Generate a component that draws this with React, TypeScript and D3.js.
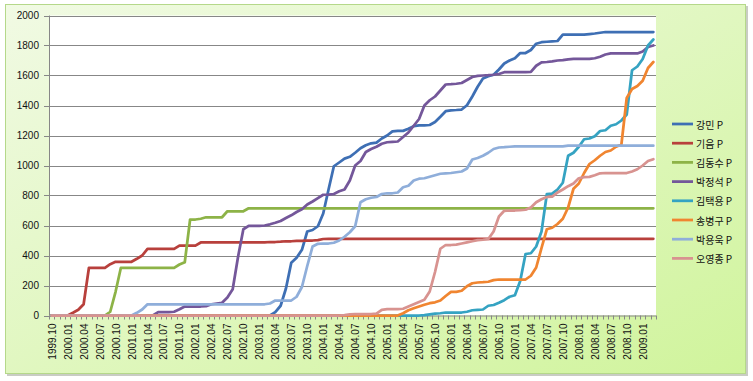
import React from "react";
import * as d3 from "d3";

const W = 753;
const H = 381;

// Categories: monthly from 1999.10 to 2009.03
const months: string[] = d3
  .timeMonth.range(new Date(1999, 9, 1), new Date(2009, 3, 1))
  .map((d) => d3.timeFormat("%Y.%m")(d));

const yTicks = [0, 200, 400, 600, 800, 1000, 1200, 1400, 1600, 1800, 2000];

const seriesNames = ["강민 P", "기음 P", "김동수 P", "박정석 P", "김택용 P", "송병구 P", "박용욱 P", "오영종 P"];
const seriesColors = ["#3E6FB4", "#B8403C", "#8DB347", "#74579A", "#35A3C2", "#F08530", "#8FAEDA", "#D89390"];

const kangmin = [
  0,0,0,0,0,0,0,0,0,0,
  0,0,0,0,0,0,0,0,0,0,
  0,0,0,0,0,0,0,0,0,0,
  0,0,0,0,0,0,0,0,0,0,
  0,0,22,65,180,352,385,438,560,570,
  595,680,840,995,1020,1046,1058,1085,1115,1135,
  1148,1153,1180,1200,1228,1231,1231,1245,1262,1268,
  1268,1270,1290,1325,1362,1368,1370,1373,1402,1460,
  1525,1580,1595,1605,1640,1680,1700,1715,1750,1750,
  1770,1812,1822,1825,1828,1830,1872,1872,1872,1872,
  1872,1876,1880,1885,1890,1890,1890,1890,1890,1890,
  1890,1890,1890,1890,
];
const gieum = [
  0,0,0,0,18,38,75,318,318,318,
  318,342,358,358,358,358,378,400,444,444,
  444,444,444,444,466,466,466,466,487,487,
  487,487,487,487,487,487,487,487,487,487,
  487,490,490,492,495,495,497,498,500,500,
  502,510,511,511,511,511,511,511,511,511,
  511,511,511,511,511,511,511,511,511,511,
  511,511,511,511,511,511,511,511,511,511,
  511,511,511,511,511,511,511,511,511,511,
  511,511,511,511,511,511,511,511,511,511,
  511,511,511,511,511,511,511,511,511,511,
  511,511,511,511,
];
const kimdongsu = [
  0,0,0,0,0,0,0,0,0,0,
  0,25,158,318,318,318,318,318,318,318,
  318,318,318,318,340,355,640,640,645,655,
  655,655,655,695,695,695,695,715,715,715,
  715,715,715,715,715,715,715,715,715,715,
  715,715,715,715,715,715,715,715,715,715,
  715,715,715,715,715,715,715,715,715,715,
  715,715,715,715,715,715,715,715,715,715,
  715,715,715,715,715,715,715,715,715,715,
  715,715,715,715,715,715,715,715,715,715,
  715,715,715,715,715,715,715,715,715,715,
  715,715,715,715,
];
const parkjungsuk = [
  0,0,0,0,0,0,0,0,0,0,
  0,0,0,0,0,0,0,0,0,0,
  22,22,22,25,42,60,60,60,60,62,
  75,80,85,120,175,390,575,598,598,598,
  600,608,618,630,650,668,690,708,740,760,
  782,805,806,810,828,840,900,1000,1030,1090,
  1110,1125,1145,1155,1158,1160,1190,1220,1265,1310,
  1400,1435,1460,1500,1540,1542,1545,1550,1570,1590,
  1598,1600,1602,1605,1610,1622,1622,1622,1622,1622,
  1624,1665,1688,1690,1694,1700,1702,1708,1711,1711,
  1711,1711,1715,1725,1740,1747,1747,1747,1747,1747,
  1747,1760,1790,1800,
];
const kimtaekyong = [
  0,0,0,0,0,0,0,0,0,0,
  0,0,0,0,0,0,0,0,0,0,
  0,0,0,0,0,0,0,0,0,0,
  0,0,0,0,0,0,0,0,0,0,
  0,0,0,0,0,0,0,0,0,0,
  0,0,0,0,0,0,0,0,0,0,
  0,0,0,0,0,0,0,0,0,0,
  3,8,12,15,20,20,20,20,25,35,
  38,40,65,70,85,102,125,135,230,410,
  415,460,560,810,812,840,885,1065,1085,1125,
  1175,1180,1195,1230,1235,1265,1275,1300,1340,1635,
  1660,1710,1800,1840,
];
const songbyunggu = [
  0,0,0,0,0,0,0,0,0,0,
  0,0,0,0,0,0,0,0,0,0,
  0,0,0,0,0,0,0,0,0,0,
  0,0,0,0,0,0,0,0,0,0,
  0,0,0,0,0,0,0,0,0,0,
  0,0,0,0,0,0,0,0,0,0,
  0,0,0,0,0,0,15,35,48,60,
  72,82,88,100,130,158,158,165,195,215,
  220,222,225,236,240,240,240,240,240,240,
  265,320,450,575,585,610,645,720,845,880,
  950,1010,1035,1065,1090,1100,1125,1140,1450,1510,
  1530,1565,1650,1690,
];
const parkyongwook = [
  0,0,0,0,0,0,0,0,0,0,
  0,0,0,0,0,0,18,40,75,75,
  75,75,75,75,75,75,75,75,75,75,
  75,75,75,75,75,75,75,75,75,75,
  75,80,100,100,100,100,125,190,330,460,
  478,480,480,485,500,525,555,595,755,775,
  785,790,810,815,815,820,855,865,900,912,
  915,925,935,945,948,950,955,960,980,1040,
  1050,1065,1085,1110,1120,1122,1125,1128,1128,1128,
  1128,1128,1128,1128,1128,1128,1128,1132,1132,1132,
  1132,1132,1132,1132,1132,1132,1132,1132,1132,1132,
  1132,1132,1132,1132,
];
const ohyoungjong = [
  0,0,0,0,0,0,0,0,0,0,
  0,0,0,0,0,0,0,0,0,0,
  0,0,0,0,0,0,0,0,0,0,
  0,0,0,0,0,0,0,0,0,0,
  0,0,0,0,0,0,0,0,0,0,
  0,0,0,0,0,3,8,10,10,10,
  10,12,38,42,42,42,45,60,75,90,
  105,160,290,445,470,470,472,480,488,495,
  502,505,510,560,660,698,700,700,702,705,
  720,755,775,790,792,820,840,862,880,915,
  922,924,935,948,950,950,950,950,950,960,
  975,1000,1030,1042,
];

const seriesValues = [kangmin, gieum, kimdongsu, parkjungsuk, kimtaekyong, songbyunggu, parkyongwook, ohyoungjong];

export default function App() {
  const left = 49, right = 656, top = 15.5, bottom = 315.5;
  const x = d3.scalePoint<string>().domain(months).range([left, right]).padding(0.5);
  const step = x.step();
  const y = d3.scaleLinear().domain([0, 2000]).range([bottom, top]);
  const line = d3
    .line<number>()
    .x((_, i) => x(months[i]) as number)
    .y((d) => y(d));

  const labelFont = "'Liberation Sans', Arial, sans-serif";

  return (
    <svg
      width={W}
      height={H}
      style={{ position: "absolute", left: 0, top: 0 }}
      xmlns="http://www.w3.org/2000/svg"
    >
      <defs>
        <linearGradient id="bg" x1="0" y1="0" x2="1" y2="1">
          <stop offset="0%" stopColor="#F1FAE4" />
          <stop offset="100%" stopColor="#D0F49C" />
        </linearGradient>
      </defs>
      <rect x={0} y={0} width={W} height={H} fill="#ffffff" />
      <rect x={7} y={6} width={741} height={370} fill="#C9CCC4" />
      <rect x={5.5} y={4.5} width={740} height={369} fill="url(#bg)" stroke="#B5D88A" strokeWidth={1} />
      <rect x={left} y={top} width={right - left} height={bottom - top} fill="#ffffff" />

      {/* gridlines */}
      {yTicks.filter((t) => t > 0).map((t) => (
        <line key={"g" + t} x1={left} x2={right} y1={Math.round(y(t)) + 0.5} y2={Math.round(y(t)) + 0.5} stroke="#878787" strokeWidth={1} />
      ))}

      {/* y axis */}
      <line x1={left + 0.5} x2={left + 0.5} y1={top} y2={bottom} stroke="#878787" />
      {yTicks.map((t) => (
        <g key={"yt" + t}>
          <line x1={left - 5} x2={left} y1={Math.round(y(t)) + 0.5} y2={Math.round(y(t)) + 0.5} stroke="#878787" />
          <text x={left - 10} y={y(t)} textAnchor="end" dominantBaseline="central" fontFamily={labelFont} fontSize={10} fill="#111">
            {t}
          </text>
        </g>
      ))}

      {/* x axis */}
      <line x1={left} x2={right} y1={bottom + 0.5} y2={bottom + 0.5} stroke="#878787" />
      {d3.range(months.length + 1).map((k) => {
        const xx = Math.round(left + k * step) + 0.5;
        return <line key={"xt" + k} x1={xx} x2={xx} y1={bottom} y2={bottom + 4} stroke="#878787" />;
      })}
      {months.map((m, i) =>
        i % 3 === 0 ? (
          <text
            key={"xl" + m}
            transform={`translate(${(x(m) as number) + 0.5},${bottom + 8}) rotate(-90)`}
            textAnchor="end"
            dominantBaseline="central"
            fontFamily={labelFont}
            fontSize={10}
            fill="#111"
          >
            {m}
          </text>
        ) : null
      )}

      {/* series */}
      {seriesValues.map((vals, s) => (
        <path
          key={"s" + s}
          d={line(vals) || ""}
          fill="none"
          stroke={seriesColors[s]}
          strokeWidth={2.75}
          strokeLinejoin="round"
          strokeLinecap="round"
        />
      ))}

      {/* legend */}
      {seriesNames.map((n, s) => {
        const ly = 124 + s * 19.2;
        return (
          <g key={"lg" + s}>
            <line x1={672} x2={693} y1={ly} y2={ly} stroke={seriesColors[s]} strokeWidth={2.75} />
            <text x={696} y={ly} dominantBaseline="central" fontFamily="'Noto Sans CJK KR', sans-serif" fontSize={10} fill="#111">
              {n}
            </text>
          </g>
        );
      })}
    </svg>
  );
}
